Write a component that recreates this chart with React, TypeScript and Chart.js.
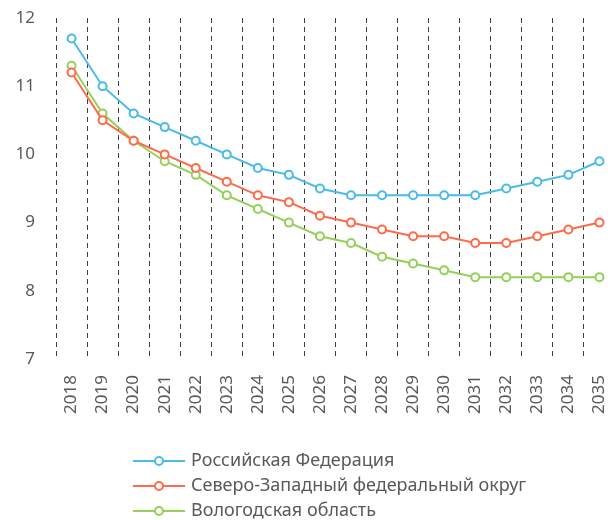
import React, { useEffect, useRef } from "react";
import { Chart, registerables } from "chart.js";

Chart.register(...registerables);

const years = ["2018","2019","2020","2021","2022","2023","2024","2025","2026","2027","2028","2029","2030","2031","2032","2033","2034","2035"];
const russia = [11.7, 11.0, 10.6, 10.4, 10.2, 10.0, 9.8, 9.7, 9.5, 9.4, 9.4, 9.4, 9.4, 9.4, 9.5, 9.6, 9.7, 9.9];
const northwest = [11.2, 10.5, 10.2, 10.0, 9.8, 9.6, 9.4, 9.3, 9.1, 9.0, 8.9, 8.8, 8.8, 8.7, 8.7, 8.8, 8.9, 9.0];
const vologda = [11.3, 10.6, 10.2, 9.9, 9.7, 9.4, 9.2, 9.0, 8.8, 8.7, 8.5, 8.4, 8.3, 8.2, 8.2, 8.2, 8.2, 8.2];
const seriesNames = ["Российская Федерация", "Северо-Западный федеральный округ", "Вологодская область"];
const seriesColors = ["#4ABBE8", "#FF6A4B", "#96D05A"];
const yTicks = [7, 8, 9, 10, 11, 12];

const FONT = "'Noto Sans', 'Open Sans', sans-serif";
const TEXT = "#595959";

const legendPlugin = {
  id: "stackedLegend",
  afterDraw(chart: any) {
    const ctx = chart.ctx;
    ctx.save();
    chart.data.datasets.forEach((ds: any, i: number) => {
      const y = 461 + i * 25;
      ctx.strokeStyle = ds.borderColor;
      ctx.lineWidth = 2;
      ctx.beginPath();
      ctx.moveTo(133, y);
      ctx.lineTo(185, y);
      ctx.stroke();
      ctx.beginPath();
      ctx.arc(159, y, 4, 0, Math.PI * 2);
      ctx.fillStyle = "#ffffff";
      ctx.fill();
      ctx.stroke();
      ctx.fillStyle = TEXT;
      ctx.font = `18px ${FONT}`;
      ctx.textBaseline = "middle";
      ctx.textAlign = "left";
      ctx.fillText(ds.label, 191, y);
    });
    ctx.restore();
  },
};

export default function App() {
  const ref = useRef<HTMLCanvasElement | null>(null);
  useEffect(() => {
    if (!ref.current) return;
    const values = [russia, northwest, vologda];
    const chart = new Chart(ref.current, {
      type: "line",
      data: {
        labels: years,
        datasets: values.map((v, i) => ({
          label: seriesNames[i],
          data: v,
          borderColor: seriesColors[i],
          backgroundColor: "#ffffff",
          borderWidth: 2,
          pointRadius: 4,
          pointBorderWidth: 2,
          pointBackgroundColor: "#ffffff",
          pointBorderColor: seriesColors[i],
          tension: 0,
        })),
      },
      options: {
        responsive: false,
        animation: false,
        layout: { padding: { top: 18, bottom: 91, left: 1, right: 0 } },
        plugins: { legend: { display: false }, tooltip: { enabled: false } },
        scales: {
          x: {
            offset: true,
            grid: {
              display: true,
              offset: true,
              drawTicks: false,
              color: "#404040",
              lineWidth: 1,
            },
            border: { display: false, dash: [5, 4] },
            ticks: {
              minRotation: 90,
              maxRotation: 90,
              autoSkip: false,
              padding: 16,
              color: TEXT,
              font: { family: FONT, size: 17 },
            },
            afterFit(scale: any) {
              scale.height = 70;
            },
          },
          y: {
            min: 7,
            max: 12,
            afterBuildTicks(scale: any) {
              scale.ticks = yTicks.map((v) => ({ value: v }));
            },
            grid: { display: false, drawTicks: false },
            border: { display: false },
            ticks: {
              padding: 21,
              color: TEXT,
              font: { family: FONT, size: 17 },
            },
            afterFit(scale: any) {
              scale.width = 55;
              scale.paddingTop = 0;
              scale.paddingBottom = 0;
            },
          },
        },
      },
      plugins: [legendPlugin],
    });
    return () => chart.destroy();
  }, []);
  return (
    <div style={{ position: "fixed", left: 0, top: 0, width: 613, height: 520, overflow: "hidden", background: "#fff" }}>
      <canvas ref={ref} width={636} height={520} style={{ display: "block" }} />
    </div>
  );
}
